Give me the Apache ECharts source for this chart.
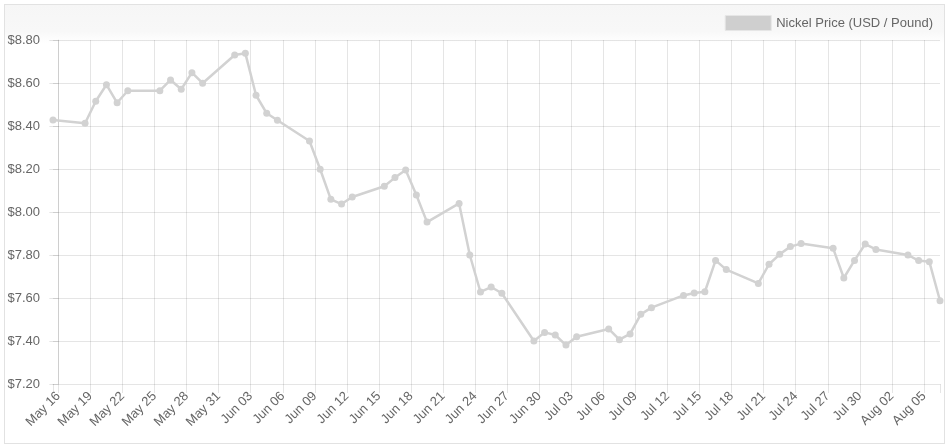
<!DOCTYPE html>
<html>
<head>
<meta charset="utf-8">
<script src="https://cdn.jsdelivr.net/npm/echarts@6/dist/echarts.min.js"></script>
<style>
  html, body { margin: 0; padding: 0; background: #fff; }
  #panel { position: absolute; left: 4px; top: 4px; width: 941px; height: 440px; box-sizing: border-box;
    border: 1px solid #e2e2e2; background: linear-gradient(to bottom, #f6f6f6 0px, #f8f8f8 26px, #ffffff 38px); }
  #chart { position: absolute; left: 0; top: 0; width: 948px; height: 446px; }
</style>
</head>
<body>
<div id="panel"></div>
<div id="chart"></div>
<script>
// Trading dates (2020) and nickel price in USD per pound
const dates = [
  '2020-05-15','2020-05-18','2020-05-19','2020-05-20','2020-05-21','2020-05-22',
  '2020-05-25','2020-05-26','2020-05-27','2020-05-28','2020-05-29',
  '2020-06-01','2020-06-02','2020-06-03','2020-06-04','2020-06-05',
  '2020-06-08','2020-06-09','2020-06-10','2020-06-11','2020-06-12',
  '2020-06-15','2020-06-16','2020-06-17','2020-06-18','2020-06-19',
  '2020-06-22','2020-06-23','2020-06-24','2020-06-25','2020-06-26',
  '2020-06-29','2020-06-30','2020-07-01','2020-07-02','2020-07-03',
  '2020-07-06','2020-07-07','2020-07-08','2020-07-09','2020-07-10',
  '2020-07-13','2020-07-14','2020-07-15','2020-07-16','2020-07-17',
  '2020-07-20','2020-07-21','2020-07-22','2020-07-23','2020-07-24',
  '2020-07-27','2020-07-28','2020-07-29','2020-07-30','2020-07-31',
  '2020-08-03','2020-08-04','2020-08-05','2020-08-06'
];
const prices = [
  8.428, 8.413, 8.515, 8.592, 8.508, 8.564,
  8.564, 8.614, 8.571, 8.648, 8.599,
  8.730, 8.738, 8.543, 8.459, 8.427,
  8.330, 8.199, 8.059, 8.037, 8.070,
  8.120, 8.160, 8.195, 8.079, 7.953,
  8.040, 7.800, 7.628, 7.651, 7.622,
  7.400, 7.440, 7.428, 7.381, 7.420,
  7.456, 7.406, 7.433, 7.524, 7.555,
  7.612, 7.623, 7.629, 7.775, 7.732,
  7.668, 7.757, 7.803, 7.839, 7.853,
  7.831, 7.693, 7.775, 7.851, 7.826,
  7.800, 7.774, 7.769, 7.587
];
// x-axis tick labels, one every 3 days starting May 16
const tickLabels = [
  'May 16','May 19','May 22','May 25','May 28','May 31',
  'Jun 03','Jun 06','Jun 09','Jun 12','Jun 15','Jun 18','Jun 21','Jun 24','Jun 27','Jun 30',
  'Jul 03','Jul 06','Jul 09','Jul 12','Jul 15','Jul 18','Jul 21','Jul 24','Jul 27','Jul 30',
  'Aug 02','Aug 05'
];
const seriesName = 'Nickel Price (USD / Pound)';
const firstTickDate = '2020-05-16';
const sampleHour = 12;
const tickStepDays = 3;

function dayOffset(s) {
  const p = s.split('-').map(Number);
  const q = firstTickDate.split('-').map(Number);
  return (Date.UTC(p[0], p[1] - 1, p[2]) - Date.UTC(q[0], q[1] - 1, q[2])) / 864e5 + sampleHour / 24;
}
const seriesData = dates.map((d, i) => [dayOffset(d), prices[i]]);

const gridColor = 'rgba(0,0,0,0.1)';
const textColor = '#666';
const font = '"Liberation Sans", Arial, Helvetica, sans-serif';
const fontSize = 13;
const lineColor = '#d2d2d2';

const chart = echarts.init(document.getElementById('chart'), null, { renderer: 'canvas' });
chart.setOption({
  animation: false,
  backgroundColor: 'transparent',
  textStyle: { fontFamily: font },
  grid: { left: 53, right: 8, top: 40, bottom: 62, containLabel: false },
  legend: {
    right: 15, top: 15, padding: 0,
    itemWidth: 46, itemHeight: 15, itemGap: 10,
    icon: 'rect',
    data: [{ name: seriesName, icon: 'rect', itemStyle: { color: '#cfcfcf', borderColor: '#e6e6e6', borderWidth: 1 } }],
    textStyle: { color: textColor, fontSize: fontSize, fontFamily: font }
  },
  xAxis: {
    type: 'value',
    min: 'dataMin', max: 'dataMax',
    minInterval: tickStepDays, maxInterval: tickStepDays,
    axisLine: { show: true, lineStyle: { color: gridColor, width: 1 } },
    axisTick: { show: true, length: 9, lineStyle: { color: gridColor } },
    splitLine: { show: true, showMinLine: false, showMaxLine: false, lineStyle: { color: gridColor, width: 1 } },
    axisLabel: {
      rotate: 45, margin: 10, color: textColor, fontSize: fontSize, fontFamily: font,
      showMinLabel: true, showMaxLabel: true,
      formatter: function (v) {
        const idx = Math.round(v / tickStepDays);
        if (Math.abs(v - idx * tickStepDays) > 1e-6) return '';
        return tickLabels[idx] || '';
      }
    }
  },
  yAxis: {
    type: 'value',
    min: 7.2, max: 8.8, interval: 0.2,
    axisLine: { show: true, lineStyle: { color: gridColor, width: 1 } },
    axisTick: { show: true, length: 9, lineStyle: { color: gridColor } },
    splitLine: { show: true, showMinLine: false, lineStyle: { color: gridColor, width: 1 } },
    axisLabel: {
      margin: 13, color: textColor, fontSize: fontSize, fontFamily: font,
      formatter: function (v) { return '$' + v.toFixed(2); }
    }
  },
  series: [{
    name: seriesName,
    type: 'line',
    data: seriesData,
    showSymbol: true,
    showAllSymbol: true,
    symbol: 'circle',
    symbolSize: 7,
    lineStyle: { color: lineColor, width: 2.5 },
    itemStyle: { color: lineColor, borderWidth: 0 },
    emphasis: { disabled: true },
    clip: false
  }]
});
</script>
</body>
</html>
